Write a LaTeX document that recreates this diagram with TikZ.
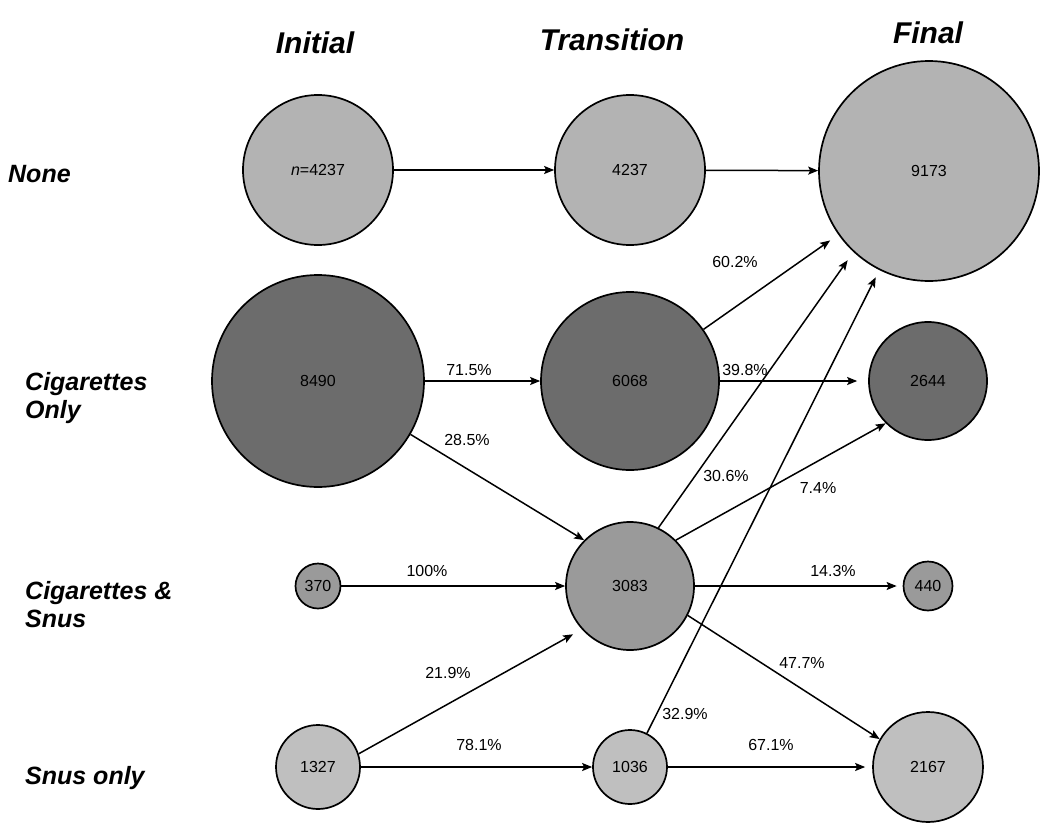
\documentclass[tikz,border=0pt]{standalone}
\usepackage{fontspec}
\setmainfont{Liberation Sans}
\usetikzlibrary{arrows.meta}

\definecolor{nonegray}{HTML}{B3B3B3}
\definecolor{ciggray}{HTML}{6C6C6C}
\definecolor{bothgray}{HTML}{9A9A9A}
\definecolor{snusgray}{HTML}{BFBFBF}

\newcommand\numfont{\fontsize{16}{19}\selectfont}
\newcommand\rowfont{\fontsize{25}{28}\selectfont\bfseries\itshape}
\newcommand\headfont{\fontsize{30}{34}\selectfont\bfseries\itshape}

\begin{document}
\begin{tikzpicture}[x=1pt, y=-1pt,
	state/.style = {circle, draw, line width=1.7pt, inner sep=0pt, font=\numfont},
	flow/.style = {-{Stealth[length=10pt, width=8pt, inset=2pt]}, line width=1.5pt},
	pct/.style = {font=\numfont, inner sep=0pt},
	rowlab/.style = {font=\rowfont, align=left, inner sep=0pt},
	colhead/.style = {font=\headfont, inner sep=0pt, anchor=base}]

\useasboundingbox[fill=white] (0,0) rectangle (1050,830);

% column heads
\node[colhead] (hi) at (315,53) {Initial};
\node[colhead] (ht) at (612,50) {Transition};
\node[colhead] (hf) at (928,43) {Final};

% row labels
\node[rowlab, anchor=base west] (rn) at (8,182) {None};
\node[rowlab, anchor=north west] (rc) at (25,372) {Cigarettes\\Only};
\node[rowlab, anchor=north west] (rb) at (25,581) {Cigarettes \&\\Snus};
\node[rowlab, anchor=base west] (rs) at (25,784) {Snus only};

% states
\node[state, fill=nonegray, minimum size=150pt] (ni) at (318,170) {\textit{n}=4237};
\node[state, fill=nonegray, minimum size=150pt] (nt) at (630,170) {4237};
\node[state, fill=nonegray, minimum size=220pt] (nf) at (929,171) {9173};
\node[state, fill=ciggray, minimum size=212pt] (ci) at (318,381) {8490};
\node[state, fill=ciggray, minimum size=178pt] (ct) at (630,381) {6068};
\node[state, fill=ciggray, minimum size=118pt] (cf) at (928,381) {2644};
\node[state, fill=bothgray, minimum size=45pt] (bi) at (318,586) {370};
\node[state, fill=bothgray, minimum size=128pt] (bt) at (630,586) {3083};
\node[state, fill=bothgray, minimum size=49pt] (bf) at (928,586) {440};
\node[state, fill=snusgray, minimum size=84pt] (si) at (318,767) {1327};
\node[state, fill=snusgray, minimum size=74pt] (st) at (630,767) {1036};
\node[state, fill=snusgray, minimum size=110pt] (sf) at (928,767) {2167};

% flows
\draw[flow] (ni) -- (nt);
\draw[flow] (nt) -- (nf);
\draw[flow] (ci) -- (ct);
\draw[flow] (ci.-30) -- (bt.135);
\draw[flow, shorten >=10pt] (ct) -- (nf);
\draw[flow, shorten >=11pt] (ct) -- (cf);
\draw[flow, shorten >=10pt] (bt.64) -- (nf.227);
\draw[flow, shorten >=8pt] (st) -- (nf);
\draw[flow] (bt.45) -- (cf.225);
\draw[flow, shorten >=6pt] (bt) -- (bf);
\draw[flow] (bt.-27) -- (sf.150);
\draw[flow] (bi) -- (bt);
\draw[flow, shorten >=10pt] (si.18) -- (bt.222);
\draw[flow] (si) -- (st);
\draw[flow, shorten >=7pt] (st) -- (sf);

% percentages
\node[pct] (p1) at (469,370) {71.5\%};
\node[pct] (p2) at (467,440) {28.5\%};
\node[pct] (p3) at (735,262) {60.2\%};
\node[pct] (p4) at (745,370) {39.8\%};
\node[pct] (p5) at (726,476) {30.6\%};
\node[pct] (p6) at (818,488) {7.4\%};
\node[pct] (p7) at (427,571) {100\%};
\node[pct] (p8) at (833,571) {14.3\%};
\node[pct] (p9) at (448,673) {21.9\%};
\node[pct] (p10) at (802,663) {47.7\%};
\node[pct] (p11) at (685,714) {32.9\%};
\node[pct] (p12) at (479,745) {78.1\%};
\node[pct] (p13) at (771,745) {67.1\%};
\end{tikzpicture}
\end{document}
